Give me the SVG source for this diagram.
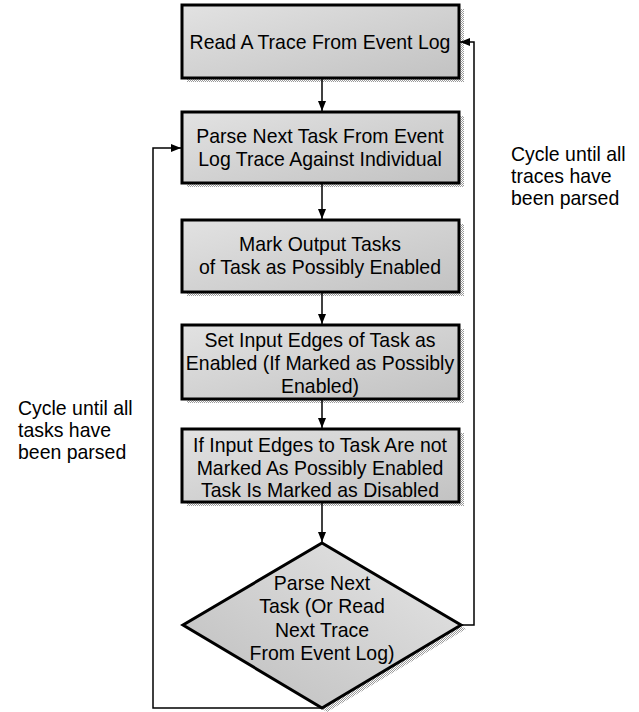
<svg xmlns="http://www.w3.org/2000/svg" width="639" height="712" viewBox="0 0 639 712">
<defs>
<pattern id="hatch" width="2" height="2" patternUnits="userSpaceOnUse">
<rect width="2" height="2" fill="#ffffff"/>
<rect width="1" height="1" fill="#9a9a9a"/>
<rect x="1" y="1" width="1" height="1" fill="#9a9a9a"/>
</pattern>
<linearGradient id="fill" x1="0" y1="0" x2="1" y2="1">
<stop offset="0" stop-color="#e2e2e2"/>
<stop offset="1" stop-color="#c2c2c2"/>
</linearGradient>
<linearGradient id="dfill" x1="1" y1="0" x2="0" y2="1">
<stop offset="0" stop-color="#e6e6e6"/>
<stop offset="1" stop-color="#bdbdbd"/>
</linearGradient>
<marker id="arr" markerWidth="10" markerHeight="10" refX="10" refY="5" orient="auto" markerUnits="userSpaceOnUse">
<path d="M0,1 L10,5 L0,9 Z" fill="#000"/>
</marker>
</defs>
<style>
.box{fill:url(#fill);stroke:#000;stroke-width:3}
.sh{fill:url(#hatch)}
.t{font-family:"Liberation Sans",Arial,sans-serif;font-size:20.5px;fill:#000;text-anchor:middle}
.lbl{font-family:"Liberation Sans",Arial,sans-serif;font-size:20.5px;fill:#000}
.c{fill:none;stroke:#000;stroke-width:1.5}
</style>
<g id="n1">
<rect class="sh" x="187" y="9" width="277" height="73"/>
<rect class="box" x="182" y="5" width="277" height="73"/>
<g transform="translate(320,0) scale(0.95,1)">
<text class="t" x="0" y="49">Read A Trace From Event Log</text>
</g>
</g>
<g id="n2">
<rect class="sh" x="187" y="116" width="277" height="71"/>
<rect class="box" x="182" y="112" width="277" height="71"/>
<g transform="translate(320,0) scale(0.95,1)">
<text class="t" x="0" y="143">Parse Next Task From Event</text>
<text class="t" x="0" y="166">Log Trace Against Individual</text>
</g>
</g>
<g id="n3">
<rect class="sh" x="187" y="224" width="277" height="72"/>
<rect class="box" x="182" y="220" width="277" height="72"/>
<g transform="translate(320,0) scale(0.95,1)">
<text class="t" x="0" y="251">Mark Output Tasks</text>
<text class="t" x="0" y="274">of Task as Possibly Enabled</text>
</g>
</g>
<g id="n4">
<rect class="sh" x="187" y="329" width="277" height="74"/>
<rect class="box" x="182" y="325" width="277" height="74"/>
<g transform="translate(320,0) scale(0.95,1)">
<text class="t" x="0" y="347">Set Input Edges of Task as</text>
<text class="t" x="0" y="370">Enabled (If Marked as Possibly</text>
<text class="t" x="0" y="393">Enabled)</text>
</g>
</g>
<g id="n5">
<rect class="sh" x="187" y="433" width="277" height="73"/>
<rect class="box" x="182" y="429" width="277" height="73"/>
<g transform="translate(320,0) scale(0.95,1)">
<text class="t" x="0" y="452">If Input Edges to Task Are not</text>
<text class="t" x="0" y="475">Marked As Possibly Enabled</text>
<text class="t" x="0" y="497">Task Is Marked as Disabled</text>
</g>
</g>
<g id="n6">
<polygon class="sh" points="327,547 466,629 327,712 188,629"/>
<polygon points="322,543 461,625 322,708 183,625" fill="url(#dfill)" stroke="#000" stroke-width="3" stroke-linejoin="miter"/>
<g transform="translate(322,0) scale(0.95,1)">
<text class="t" x="0" y="590">Parse Next</text>
<text class="t" x="0" y="613">Task (Or Read</text>
<text class="t" x="0" y="637">Next Trace</text>
<text class="t" x="0" y="660">From Event Log)</text>
</g>
</g>
<g id="labels">
<g transform="translate(511,0) scale(0.95,1)">
<text class="lbl" x="0" y="161">Cycle until all</text>
<text class="lbl" x="0" y="183">traces have</text>
<text class="lbl" x="0" y="205">been parsed</text>
</g>
<g transform="translate(18,0) scale(0.95,1)">
<text class="lbl" x="0" y="415">Cycle until all</text>
<text class="lbl" x="0" y="437">tasks have</text>
<text class="lbl" x="0" y="459">been parsed</text>
</g>
</g>
<g id="connectors">
<line class="c" x1="322" y1="79" x2="322" y2="111" marker-end="url(#arr)"/>
<line class="c" x1="322" y1="184" x2="322" y2="219" marker-end="url(#arr)"/>
<line class="c" x1="322" y1="293" x2="322" y2="324" marker-end="url(#arr)"/>
<line class="c" x1="322" y1="400" x2="322" y2="428" marker-end="url(#arr)"/>
<line class="c" x1="322" y1="503" x2="322" y2="542" marker-end="url(#arr)"/>
<polyline class="c" points="462,625 474,625 474,42 460,42" marker-end="url(#arr)"/>
<polyline class="c" points="322,708 153,708 153,148 181,148" marker-end="url(#arr)"/>
</g>
</svg>
